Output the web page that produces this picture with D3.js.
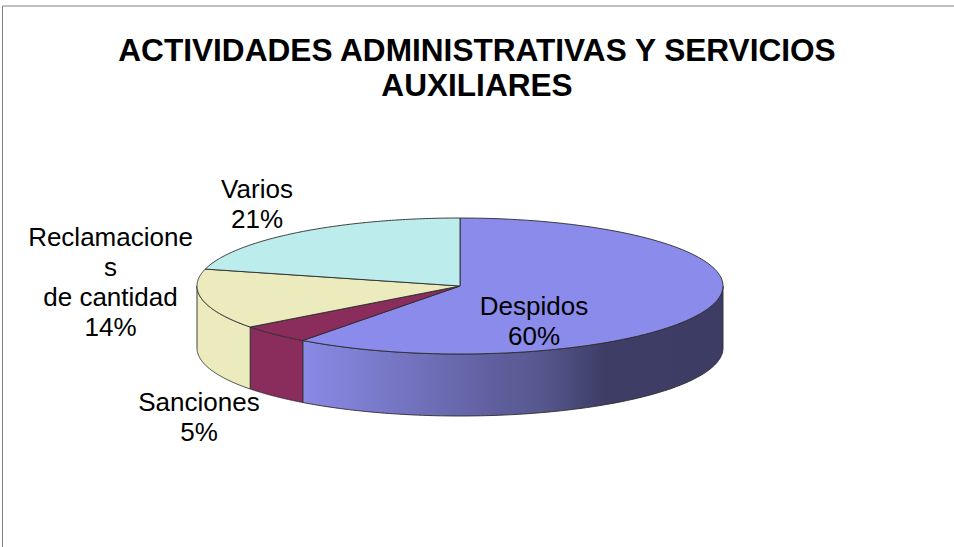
<!DOCTYPE html>
<html><head><meta charset="utf-8">
<script src="https://cdnjs.cloudflare.com/ajax/libs/d3/7.8.5/d3.min.js"></script>
<style>html,body{margin:0;padding:0;background:#fff}svg{display:block}text{font-family:"Liberation Sans",Arial,sans-serif;fill:#000}</style>
</head><body><div id="c"></div>
<script>
const titleLines = ["ACTIVIDADES ADMINISTRATIVAS Y SERVICIOS", "AUXILIARES"];
const categories = ["Despidos", "Sanciones", "Reclamaciones de cantidad", "Varios"];
const values = [60.2, 4.5, 14.3, 21];
const percentLabels = ["60%", "5%", "14%", "21%"];
const labelLines = [["Despidos"], ["Sanciones"], ["Reclamacione", "s", "de cantidad"], ["Varios"]];
const topColors = ["#8b8beb", "#8a2c5c", "#ecebbd", "#bcecec"];
const sideColors = ["url(#sideBlue)", "#8a2c5c", "#ecebbd", "#bcecec"];

const W = 954, H = 547;
const cx = 460, cy = 286, rx = 263, ry = 68, depth = 62;
const labelPos = [[534, 315], [199, 411], [110.5, 246], [257, 198]];

const svg = d3.select("#c").append("svg").attr("width", W).attr("height", H);
const grad = svg.append("defs").append("linearGradient").attr("id", "sideBlue")
  .attr("gradientUnits", "userSpaceOnUse").attr("x1", 303).attr("x2", 723).attr("y1", 0).attr("y2", 0);
[[0, "#8a8ae6"], [0.25, "#7373c0"], [0.47, "#5e5e9c"], [0.56, "#585890"], [0.72, "#3d3d66"], [1, "#3c3c64"]]
  .forEach(([o, c]) => grad.append("stop").attr("offset", o).attr("stop-color", c));

svg.append("path").attr("d", `M${W},6H2.5V${H}`).attr("fill", "none").attr("stroke", "#808080").attr("stroke-width", 1);

svg.selectAll("text.title").data(titleLines).join("text").attr("class", "title")
  .attr("x", 477).attr("y", (d, i) => 61 + i * 35).attr("text-anchor", "middle")
  .attr("font-size", 31.6).attr("font-weight", "bold").text(d => d);

const arcs = d3.pie().sort(null)(values);
const px = a => cx + rx * Math.sin(a), py = a => cy - ry * Math.cos(a);
const line = d3.line();
const sample = (a0, a1) => d3.range(0, 121).map(i => a0 + (a1 - a0) * i / 120);
const stroke = "#2b2b2b";

// side walls: only the visible front half of the ellipse (pi/2 .. 3pi/2)
const g = svg.append("g");
arcs.forEach((d, i) => {
  const a0 = Math.max(d.startAngle, Math.PI / 2), a1 = Math.min(d.endAngle, 3 * Math.PI / 2);
  if (a1 <= a0) return;
  const s = sample(a0, a1);
  const pts = s.map(a => [px(a), py(a)]).concat(s.slice().reverse().map(a => [px(a), py(a) + depth]));
  g.append("path").attr("d", line(pts) + "Z").attr("fill", sideColors[i])
    .attr("stroke", stroke).attr("stroke-width", 0.9).attr("stroke-linejoin", "round");
});
// top faces
arcs.forEach((d, i) => {
  const s = sample(d.startAngle, d.endAngle);
  const pts = [[cx, cy]].concat(s.map(a => [px(a), py(a)]));
  g.append("path").attr("d", line(pts) + "Z").attr("fill", topColors[i])
    .attr("stroke", stroke).attr("stroke-width", 0.9).attr("stroke-linejoin", "round");
});

labelLines.forEach((ls, i) => {
  ls.concat([percentLabels[i]]).forEach((t, j) => {
    svg.append("text").attr("x", labelPos[i][0]).attr("y", labelPos[i][1] + j * 30)
      .attr("text-anchor", "middle").attr("font-size", 26).text(t);
  });
});
</script></body></html>
